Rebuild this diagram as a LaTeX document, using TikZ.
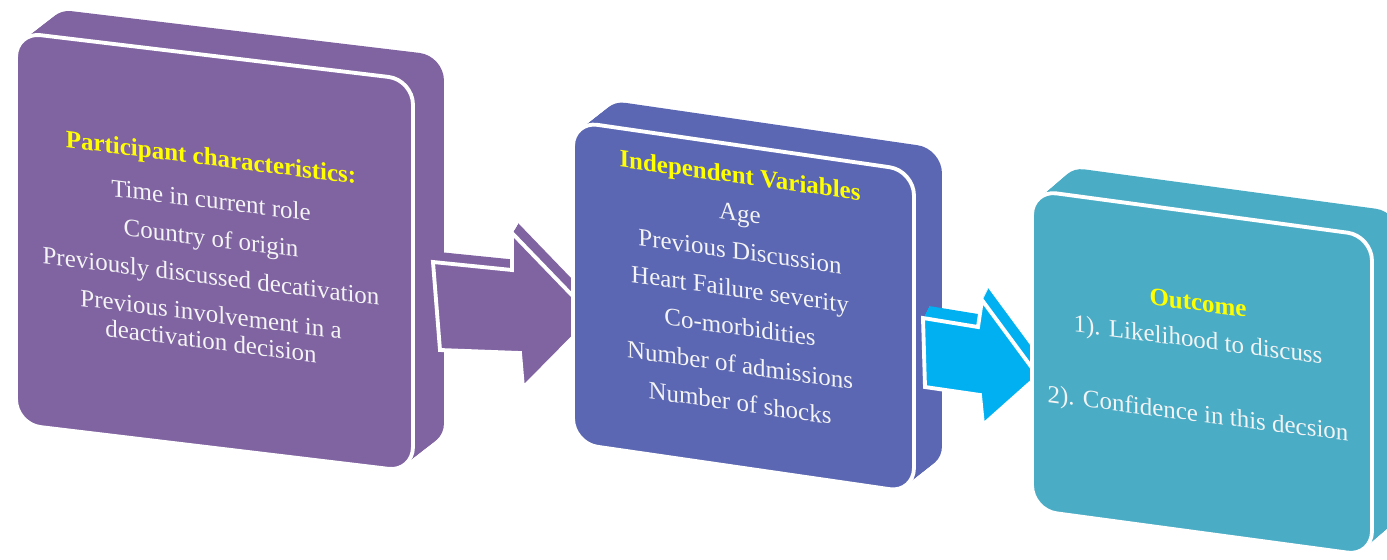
\documentclass[tikz,border=0pt]{standalone}
\usepackage{fontspec}
\setmainfont{Liberation Serif}

\definecolor{partpurple}{HTML}{8064A2}
\definecolor{indepblue}{HTML}{5B67B3}
\definecolor{outteal}{HTML}{4BACC6}
\definecolor{arrowcyan}{HTML}{00B0F0}
\definecolor{headyellow}{HTML}{FFFF00}
\definecolor{itemwhite}{HTML}{F4F4F4}

\newcommand{\headline}[1]{{\color{headyellow}\bfseries #1}}
\newcommand{\arrowone}{(433,262) -- (512,270) -- (512,233) -- (593,317) -- (523,388) -- (520,353) -- (440,350) -- cycle}
\newcommand{\arrowtwo}{(923,318) -- (978,327) -- (982,300) -- (1038,376) -- (983,425) -- (980,395) -- (925,387) -- cycle}

\begin{document}
\begin{tikzpicture}[x=0.02cm, y=-0.02cm,
	face/.style={rectangle, rounded corners=14pt, inner sep=0pt, fill=#1},
	rim/.style={draw=white, line width=2.2pt},
	itemtext/.style={text=itemwhite, align=center, inner sep=0pt, anchor=north}]
	\useasboundingbox (0,0) rectangle (1387,559);
	\clip (0,0) rectangle (1387,559);

	\foreach \k in {1,...,15}
		\node [face=partpurple, minimum width=7.94cm, minimum height=7.84cm, yslant=-0.12] (partdepth\k) at (214.5+\k*31/15, 252-\k*24/15) {};
	\node [face=partpurple, rim, minimum width=7.94cm, minimum height=7.84cm, yslant=-0.12] (partbox) at (214.5,252) {};
	\node [itemtext, yslant=-0.125, font=\fontsize{14.2pt}{21.6pt}\selectfont] (partlist) at (211,148)
		{\headline{Participant characteristics:}\\[2.8pt] Time in current role\\ Country of origin\\ Previously discussed decativation\\ Previous involvement in a\\[-6.2pt] deactivation decision};

	\foreach \k in {1,...,6}
		\fill [partpurple, shift={(\k,-\k*10/6)}] \arrowone;
	\draw [rim, fill=partpurple] \arrowone;

	\foreach \k in {1,...,15}
		\node [face=indepblue, minimum width=6.82cm, minimum height=6.44cm, yslant=-0.145] (indepdepth\k) at (743.5+\k*28/15, 307-\k*22/15) {};
	\node [face=indepblue, rim, minimum width=6.82cm, minimum height=6.44cm, yslant=-0.145] (indepbox) at (743.5,307) {};
	\node [itemtext, yslant=-0.14, font=\fontsize{14.2pt}{21.6pt}\selectfont] (indeplist) at (740,166)
		{\headline{Independent Variables}\\ Age\\ Previous Discussion\\ Heart Failure severity\\ Co-morbidities\\ Number of admissions\\ Number of shocks};

	\foreach \k in {1,...,6}
		\fill [arrowcyan, shift={(\k,-\k*2)}] \arrowtwo;
	\draw [rim, fill=arrowcyan] \arrowtwo;

	\foreach \k in {1,...,15}
		\node [face=outteal, minimum width=6.8cm, minimum height=6.4cm, yslant=-0.135] (outdepth\k) at (1202+\k*28/15, 373-\k*24/15) {};
	\node [face=outteal, rim, minimum width=6.8cm, minimum height=6.4cm, yslant=-0.135] (outbox) at (1202,373) {};
	\node [itemtext, yslant=-0.13, font=\fontsize{14.2pt}{21pt}\selectfont] (outlist) at (1198,294)
		{\headline{Outcome}\\ 1). Likelihood to discuss\\[21pt] 2). Confidence in this decsion};
\end{tikzpicture}
\end{document}
